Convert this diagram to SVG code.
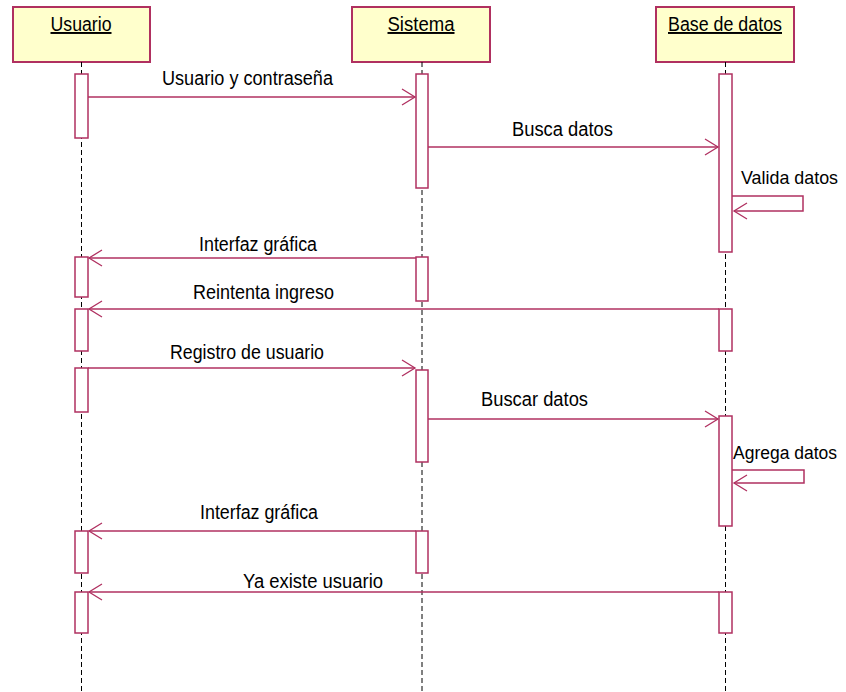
<svg xmlns="http://www.w3.org/2000/svg" width="846" height="692" viewBox="0 0 846 692">
<style>
.box{fill:#FFFFCC;stroke:#B03060;stroke-width:2}
.act{fill:#FFFFFF;stroke:#B03060;stroke-width:1.5}
.life{stroke:#000;stroke-width:1;stroke-dasharray:5 3;fill:none}
.msg{stroke:#B03060;stroke-width:1.5;fill:none;marker-end:url(#arr)}
.hd{font-family:"Liberation Sans",Arial,sans-serif;font-size:19.5px;fill:#000;text-anchor:middle;text-decoration:underline}
.lbl{font-family:"Liberation Sans",Arial,sans-serif;font-size:19.5px;fill:#000}
</style>
<defs>
<marker id="arr" markerUnits="userSpaceOnUse" markerWidth="20" markerHeight="20" viewBox="-15 -10 17 20" refX="0" refY="0" orient="auto">
<path d="M-13,-8 L0,0 L-13,8" fill="none" stroke="#B03060" stroke-width="1.3"/>
</marker>
</defs>
<rect width="846" height="692" fill="#FFFFFF"/>
<g id="usuario">
<rect class="box" x="13" y="7" width="137" height="55"/>
<text class="hd" x="81" y="31" textLength="61" lengthAdjust="spacingAndGlyphs">Usuario</text>
<line class="life" x1="81.5" y1="62" x2="81.5" y2="692"/>
<rect class="act" x="75" y="74" width="13" height="64"/>
<rect class="act" x="75" y="257" width="13" height="40"/>
<rect class="act" x="75" y="309" width="13" height="42"/>
<rect class="act" x="75" y="368" width="13" height="44"/>
<rect class="act" x="75" y="531" width="13" height="42"/>
<rect class="act" x="75" y="592" width="13" height="41"/>
</g>
<g id="sistema">
<rect class="box" x="352" y="7" width="138" height="55"/>
<text class="hd" x="421" y="31" textLength="67" lengthAdjust="spacingAndGlyphs">Sistema</text>
<line class="life" x1="422" y1="62" x2="422" y2="692"/>
<rect class="act" x="416" y="74" width="12" height="114"/>
<rect class="act" x="416" y="257" width="12" height="44"/>
<rect class="act" x="416" y="370" width="12" height="92"/>
<rect class="act" x="416" y="531" width="12" height="42"/>
</g>
<g id="basededatos">
<rect class="box" x="656" y="7" width="138" height="55"/>
<text class="hd" x="725" y="31" textLength="114" lengthAdjust="spacingAndGlyphs">Base de datos</text>
<line class="life" x1="725.5" y1="62" x2="725.5" y2="692"/>
<rect class="act" x="719" y="74" width="13" height="178"/>
<rect class="act" x="719" y="309" width="13" height="42"/>
<rect class="act" x="719" y="416" width="13" height="110"/>
<rect class="act" x="719" y="592" width="13" height="41"/>
</g>
<g id="connectors">
<line class="msg" x1="88" y1="97" x2="415" y2="97"/>
<line class="msg" x1="428" y1="147" x2="718" y2="147"/>
<polyline class="msg" points="732,196 803,196 803,211 734,211"/>
<line class="msg" x1="416" y1="258" x2="89" y2="258"/>
<line class="msg" x1="719" y1="309" x2="89" y2="309"/>
<line class="msg" x1="88" y1="368" x2="415" y2="368"/>
<line class="msg" x1="428" y1="419" x2="718" y2="419"/>
<polyline class="msg" points="732,470 804,470 804,483 734,483"/>
<line class="msg" x1="416" y1="531" x2="89" y2="531"/>
<line class="msg" x1="719" y1="592" x2="89" y2="592"/>
</g>
<g id="labels">
<text class="lbl" x="162" y="85" textLength="171" lengthAdjust="spacingAndGlyphs">Usuario y contraseña</text>
<text class="lbl" x="512" y="136" textLength="101" lengthAdjust="spacingAndGlyphs">Busca datos</text>
<text class="lbl" x="741" y="184" style="font-size:18.5px" textLength="97" lengthAdjust="spacingAndGlyphs">Valida datos</text>
<text class="lbl" x="199" y="251" textLength="118" lengthAdjust="spacingAndGlyphs">Interfaz gráfica</text>
<text class="lbl" x="193" y="299" textLength="141" lengthAdjust="spacingAndGlyphs">Reintenta ingreso</text>
<text class="lbl" x="170" y="359" textLength="154" lengthAdjust="spacingAndGlyphs">Registro de usuario</text>
<text class="lbl" x="481" y="406" textLength="107" lengthAdjust="spacingAndGlyphs">Buscar datos</text>
<text class="lbl" x="733" y="459" style="font-size:18px" textLength="104" lengthAdjust="spacingAndGlyphs">Agrega datos</text>
<text class="lbl" x="200" y="519" textLength="118" lengthAdjust="spacingAndGlyphs">Interfaz gráfica</text>
<text class="lbl" x="243" y="588" textLength="140" lengthAdjust="spacingAndGlyphs">Ya existe usuario</text>
</g>
</svg>
